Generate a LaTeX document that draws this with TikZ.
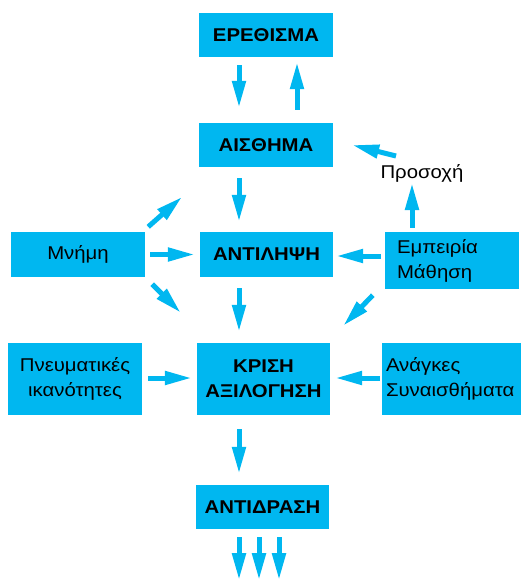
\documentclass[tikz,border=0pt]{standalone}
\usepackage{fontspec}
\setmainfont[FakeStretch=1.1]{Liberation Sans}
\usetikzlibrary{arrows.meta,calc}
\definecolor{boxcyan}{RGB}{0,183,240}
\begin{document}
\begin{tikzpicture}[x=1pt,y=-1pt,
  every node/.style={font=\fontsize{18.5}{25}\selectfont},
  box/.style={fill=boxcyan, draw=none, inner sep=0pt, minimum width=134pt,
    minimum height=44pt, align=center},
  title/.style={box, font=\fontsize{18.5}{25}\selectfont\bfseries},
  arr/.style={draw=boxcyan, line width=5pt, -{Triangle[length=27pt,width=13pt]}},
]
\useasboundingbox (0,0) rectangle (520,581);

% boxes
\node[title] (ereth) at (266,35) {ΕΡΕΘΙΣΜΑ};
\node[title] (aisth) at (266,145) {ΑΙΣΘΗΜΑ};
\node[box, minimum height=45pt] (mnimi) at (78,254.5) {Μνήμη};
\node[title, minimum height=45pt, minimum width=133pt] (antil) at (266.5,254.5) {ΑΝΤΙΛΗΨΗ};
\node[box, minimum height=57pt, text width=110pt, inner xsep=12pt, align=left]
  (empeiria) at (452,260.5) {Εμπειρία\\Μάθηση};
\node[box, minimum height=72pt] (pneum) at (75,379) {Πνευματικές\\ικανότητες};
\node[title, minimum height=72pt, minimum width=133pt] (krisi) at (263.5,379) {ΚΡΙΣΗ\\ΑΞΙΛΟΓΗΣΗ};
\node[box, minimum height=72pt, text width=132pt, inner xsep=4pt, align=left]
  (anagkes) at (452,379) {Ανάγκες\\Συναισθήματα};
\node[title, minimum width=133pt] (antidr) at (262.5,507) {ΑΝΤΙΔΡΑΣΗ};
\node (prosoxi) at (422,173) {Προσοχή};

% main chain
\draw[arr] ($(ereth.south)+(-27,8)$) -- ($(aisth.north)+(-27,-15)$);
\draw[arr] ($(aisth.north)+(31,-13)$) -- ($(ereth.south)+(31,5)$);
\draw[arr] ($(aisth.south)+(-27,11)$) -- ($(antil.north)+(-27.5,-10)$);
\draw[arr] ($(antil.south)+(-27.5,11)$) -- ($(krisi.north)+(-24.5,-11)$);
\draw[arr] ($(krisi.south)+(-24.5,14)$) -- ($(antidr.north)+(-23.5,-11)$);
\foreach \dx in {-23.5,-3.5,16.5}
  \draw[arr] ($(antidr.south)+(\dx,8)$) -- ++(0,43);

% side inputs
\draw[arr] ($(mnimi.east)+(5,0)$) -- ($(antil.west)+(-5,0)$);
\draw[arr] ($(mnimi.north east)+(3,-5)$) -- ($(mnimi.north east)+(37,-35)$);
\draw[arr] ($(mnimi.south east)+(7,7)$) -- ($(krisi.north west)+(-16,-30)$);
\draw[arr] ($(empeiria.west)+(-4,-4.5)$) -- ($(antil.east)+(3,1.5)$);
\draw[arr] ($(empeiria.south west)+(-12,6)$) -- ($(krisi.north east)+(13,-17)$);
\draw[arr] ($(empeiria.north)+(-40,-4)$) -- ($(prosoxi.center)+(-10,10)$);
\draw[arr] ($(prosoxi.center)+(-26,-17)$) -- ($(aisth.east)+(19,0)$);
\draw[arr] ($(pneum.east)+(6,-1)$) -- ($(krisi.west)+(-5,-1)$);
\draw[arr] ($(anagkes.west)+(-2,-1)$) -- ($(krisi.east)+(5,-1)$);
\end{tikzpicture}
\end{document}
